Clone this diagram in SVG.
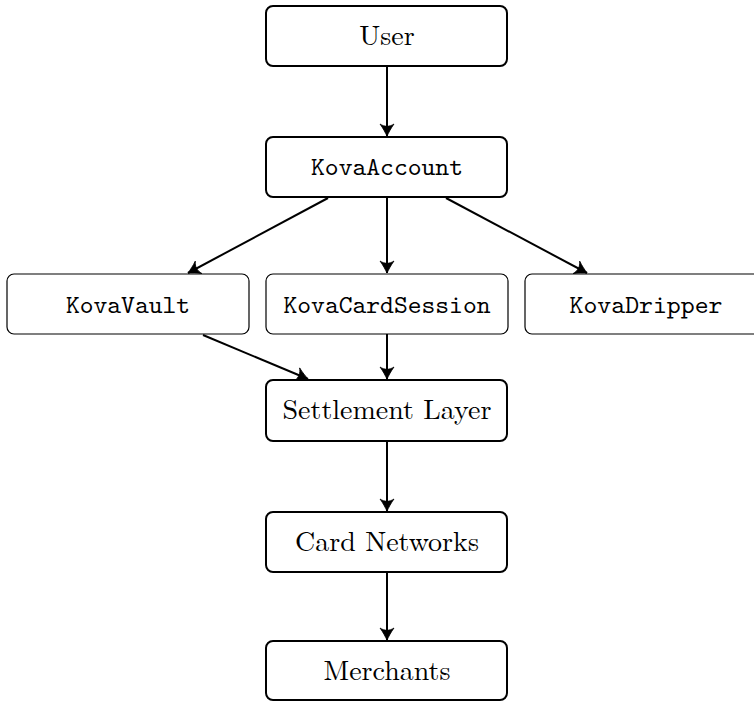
<svg xmlns="http://www.w3.org/2000/svg" width="754" height="701" viewBox="0 0 754 701">
<style>
.main rect{fill:#fff;stroke:#000;stroke-width:2}
.sub rect{fill:#fff;stroke:#000;stroke-width:1.2}
.serif{font-family:"Latin Modern Roman","Liberation Serif","DejaVu Serif",serif;font-size:28px;fill:#000;text-anchor:middle}
.mono{font-family:"Latin Modern Mono","LM Mono 10","Liberation Mono","DejaVu Sans Mono",monospace;font-size:26px;fill:#000;text-anchor:middle}
#connectors line{stroke:#000;stroke-width:2;fill:none;marker-end:url(#arr)}
</style>
<defs>
<marker id="arr" markerUnits="userSpaceOnUse" markerWidth="16" markerHeight="16" viewBox="-14 -8 16 16" refX="0" refY="0" orient="auto" overflow="visible">
<path d="M0,0 C-3,-1.5 -8,-4 -12,-7 C-9,-2.5 -9,2.5 -12,7 C-8,4 -3,1.5 0,0 Z" fill="#000" stroke="#000" stroke-width="0.8" stroke-linejoin="round"/>
</marker>
</defs>
<rect width="754" height="701" fill="#fff"/>
<g id="connectors">
<line x1="387" y1="66" x2="387" y2="136"/>
<line x1="328" y1="198" x2="188" y2="273"/>
<line x1="387" y1="197" x2="387" y2="273"/>
<line x1="446" y1="198" x2="587" y2="273"/>
<line x1="203" y1="335" x2="308" y2="379"/>
<line x1="387" y1="334" x2="387" y2="379"/>
<line x1="387" y1="441" x2="387" y2="511"/>
<line x1="387" y1="572" x2="387" y2="640"/>
</g>
<g id="user" class="main"><rect x="266" y="6" width="241" height="60" rx="7"/><text class="serif" x="387" y="45">User</text></g>
<g id="kovaaccount" class="main"><rect x="266" y="137" width="241" height="60" rx="7"/><text class="mono" x="387" y="175" textLength="152" lengthAdjust="spacingAndGlyphs">KovaAccount</text></g>
<g id="kovavault" class="sub"><rect x="7" y="274" width="242" height="60" rx="7"/><text class="mono" x="128" y="313" textLength="124" lengthAdjust="spacingAndGlyphs">KovaVault</text></g>
<g id="kovacardsession" class="sub"><rect x="266" y="274" width="242" height="60" rx="7"/><text class="mono" x="387" y="313" textLength="207" lengthAdjust="spacingAndGlyphs">KovaCardSession</text></g>
<g id="kovadripper" class="sub"><rect x="525" y="274" width="242" height="60" rx="7"/><text class="mono" x="646" y="313" textLength="153" lengthAdjust="spacingAndGlyphs">KovaDripper</text></g>
<g id="settlement" class="main"><rect x="266" y="380" width="241" height="61" rx="7"/><text class="serif" x="387" y="419">Settlement Layer</text></g>
<g id="cardnetworks" class="main"><rect x="266" y="512" width="241" height="60" rx="7"/><text class="serif" x="387" y="551">Card Networks</text></g>
<g id="merchants" class="main"><rect x="266" y="641" width="241" height="59" rx="7"/><text class="serif" x="387" y="680">Merchants</text></g>
</svg>
